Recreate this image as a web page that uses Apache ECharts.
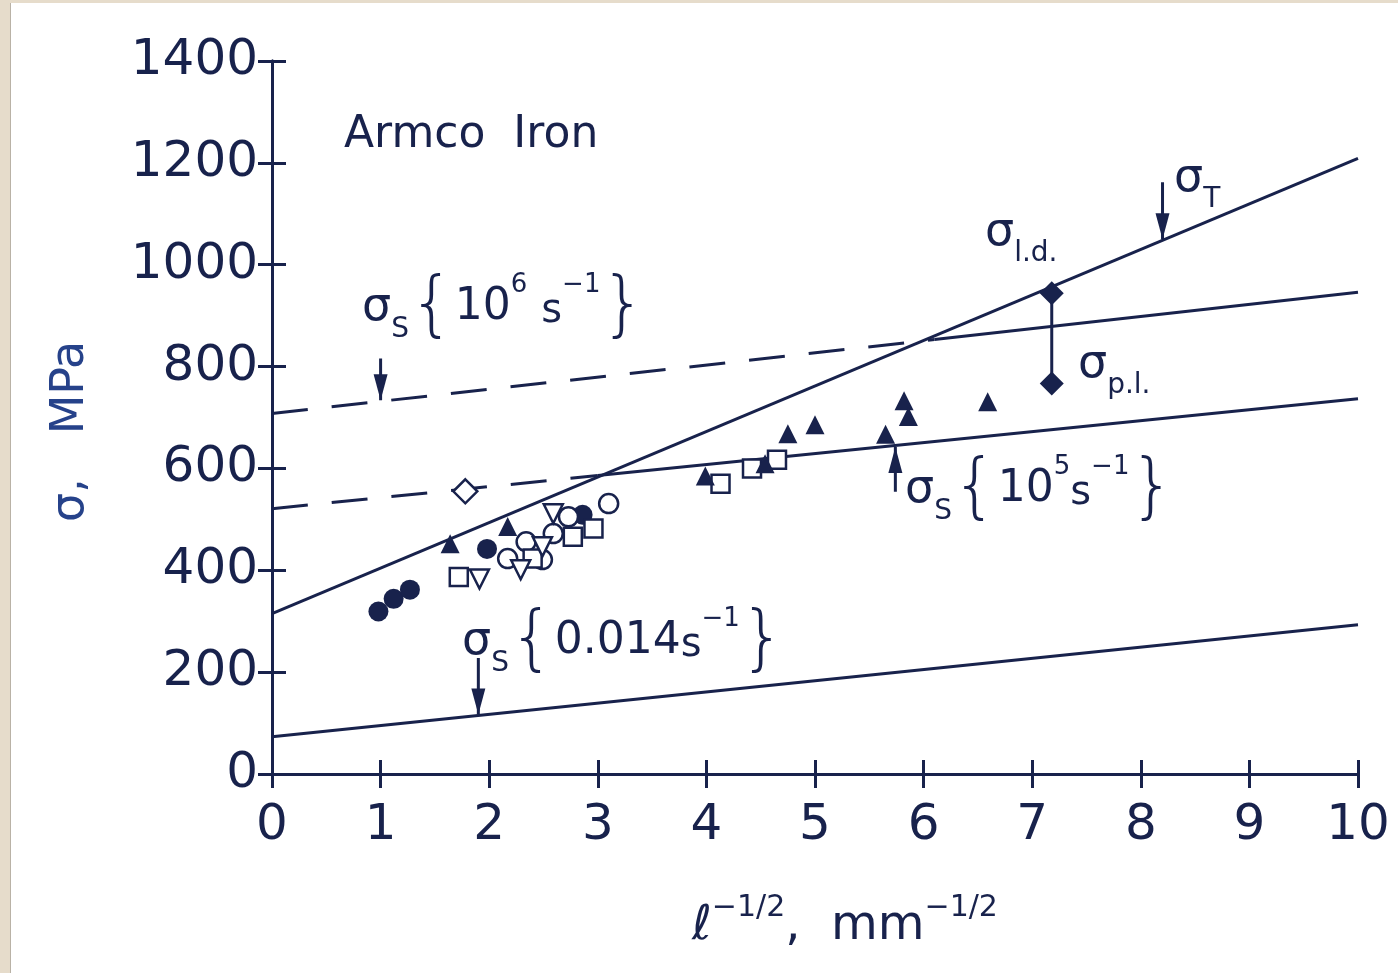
<!DOCTYPE html>
<html>
<head>
<meta charset="utf-8">
<script src="https://cdn.jsdelivr.net/npm/echarts@6/dist/echarts.min.js"></script>
<style>
  body{margin:0;background:#e6dccb;}
  #paper{position:absolute;left:10px;top:3px;right:0;bottom:0;background:#fff;border-left:1px solid #b9b2a6;}
  #main{position:absolute;left:0;top:0;width:1398px;height:973px;}
</style>
</head>
<body>
<div id="paper"></div>
<div id="main"></div>
<script>
// 坐标轴刻度
var xTicks = [0,1,2,3,4,5,6,7,8,9,10];
var yTicks = [0,200,400,600,800,1000,1200,1400];

// 直线（端点）
var tLineX = [0, 10],      tLineY = [315, 1209];   // sigma T
var s6DashX = [0, 6.1],    s6DashY = [708, 853];   // sigma s {10^6}
var s6SolidX = [6.1, 10],  s6SolidY = [853, 946];
var s5DashX = [0, 3.0],    s5DashY = [521, 586];   // sigma s {10^5}
var s5SolidX = [3.0, 10],  s5SolidY = [586, 737];
var s014X = [0, 10],       s014Y = [73, 293];      // sigma s {0.014}

// 数据点
var fCircleX = [0.98, 1.12, 1.27, 1.98, 2.86];
var fCircleY = [319, 344, 362, 442, 509];
var oCircleX = [2.17, 2.34, 2.49, 2.59, 2.73, 3.10];
var oCircleY = [423, 456, 421, 472, 505, 531];
var fTriX = [1.64, 2.17, 3.99, 4.54, 4.75, 5.0, 5.65, 5.82, 5.86, 6.59];
var fTriY = [452, 486, 585, 609, 668, 686, 667, 733, 702, 731];
var oTriX = [1.91, 2.29, 2.49, 2.59];
var oTriY = [383, 401, 446, 511];
var oSqX = [1.72, 2.40, 2.77, 2.96, 4.13, 4.42, 4.65];
var oSqY = [387, 423, 466, 482, 570, 600, 617];
var oDiaX = [1.78], oDiaY = [555];
var fDiaX = [7.18, 7.18], fDiaY = [944, 767];   // sigma l.d. / sigma p.l.

// 箭头（起点y -> 终点y）
var arrowX = [1.0, 1.9, 5.74, 8.2];
var arrowFrom = [816, 228, 554, 1162];
var arrowTo = [734, 117, 642, 1050];

var ink = '#18224c';
var font = 'DejaVu Sans';

function pairs(xs, ys){
  var out = [];
  for(var i=0;i<xs.length;i++){ out.push([xs[i], ys[i]]); }
  return out;
}
function lineSeries(xs, ys, dashed){
  return {
    type:'line', data:pairs(xs, ys), symbol:'none', silent:true, z:3,
    lineStyle:{color:ink, width:3, type: dashed ? [36,24] : 'solid'}
  };
}
function scatter(xs, ys, sym, size, filled, rot){
  return {
    type:'scatter', data:pairs(xs, ys), symbol:sym, symbolSize:size, symbolRotate:rot||0, z:5,
    itemStyle:{color: filled ? ink : '#fff', borderColor:ink, borderWidth: filled ? 0 : 2.5, opacity:1}
  };
}

// 箭头：竖线 + 三角箭头
var arrowSeries = [];
for(var i=0;i<arrowX.length;i++){
  var down = arrowTo[i] < arrowFrom[i];
  arrowSeries.push(lineSeries([arrowX[i], arrowX[i]], [arrowFrom[i], arrowTo[i]], false));
  arrowSeries.push({
    type:'scatter', silent:true, z:6, data:[[arrowX[i], arrowTo[i]]],
    symbol:'triangle', symbolSize:[14,26], symbolRotate: down ? 180 : 0,
    symbolOffset:[0, down ? '-50%' : '50%'],
    itemStyle:{color:ink, opacity:1}
  });
}

var chart = echarts.init(document.getElementById('main'), null, {renderer:'canvas'});

var supStyle = {fontSize:26, fontFamily:font, color:ink, verticalAlign:'top', lineHeight:70};
var subStyle = {fontSize:28, fontFamily:font, color:ink, verticalAlign:'bottom', lineHeight:70};
var sigStyle = {fontSize:46, fontFamily:font, color:ink, lineHeight:70};
var numStyle = {fontSize:44, fontFamily:font, color:ink, lineHeight:70};
var sStyle = {fontSize:40, fontFamily:font, color:ink, lineHeight:70, verticalAlign:'bottom', padding:[0,0,12,0]};
var richSet = {g:sigStyle, sub:subStyle, n:numStyle, sup:supStyle, s:sStyle};
function richAnno(x, y, text){
  return {
    type:'text', left:x, top:y, z:10,
    style:{text:text, fill:ink, font:'200 72px "DejaVu Sans"', rich:richSet}
  };
}

var option = {
  animation:false,
  grid:{left:272, right:40, top:61, bottom:199},
  xAxis:[{
    type:'value', min:0, max:10, interval:1,
    axisLine:{lineStyle:{color:ink, width:3}},
    axisTick:{inside:true, length:14, lineStyle:{color:ink, width:3}},
    axisLabel:{fontSize:50, fontFamily:font, color:ink, margin:27,
      formatter:function(v){ return xTicks.indexOf(v) >= 0 ? String(v) : ''; }},
    splitLine:{show:false}
  },{
    type:'value', min:0, max:10, interval:1, position:'top',
    axisLine:{lineStyle:{color:ink, width:3}},
    axisTick:{inside:true, length:14, lineStyle:{color:ink, width:3}},
    axisLabel:{show:false}, splitLine:{show:false}
  }],
  yAxis:[{
    type:'value', min:0, max:1400, interval:200,
    axisLine:{show:true, lineStyle:{color:ink, width:3}},
    axisTick:{show:true, inside:true, length:14, lineStyle:{color:ink, width:3}},
    axisLabel:{fontSize:50, fontFamily:font, color:ink, margin:14,
      formatter:function(v){ return yTicks.indexOf(v) >= 0 ? String(v) : ''; }},
    splitLine:{show:false}
  },{
    type:'value', min:0, max:1400, interval:200, position:'right',
    axisLine:{show:true, lineStyle:{color:ink, width:3}},
    axisTick:{show:true, inside:true, length:14, lineStyle:{color:ink, width:3}},
    axisLabel:{show:false}, splitLine:{show:false}
  }],
  series:[
    lineSeries(tLineX, tLineY, false),
    lineSeries(s6DashX, s6DashY, true),
    lineSeries(s6SolidX, s6SolidY, false),
    lineSeries(s5DashX, s5DashY, true),
    lineSeries(s5SolidX, s5SolidY, false),
    lineSeries(s014X, s014Y, false),
    lineSeries(fDiaX, fDiaY, false),
    scatter(fCircleX, fCircleY, 'circle', 20, true),
    scatter(oCircleX, oCircleY, 'circle', 19, false),
    scatter(oSqX, oSqY, 'rect', 18, false),
    scatter(oTriX, oTriY, 'triangle', 19, false, 180),
    scatter(fTriX, fTriY, 'triangle', 19, true),
    scatter(oDiaX, oDiaY, 'diamond', 24, false),
    scatter(fDiaX, fDiaY, 'diamond', 24, true)
  ].concat(arrowSeries),
  graphic:[
    {type:'text', left:344, top:114, z:10,
      style:{text:'Armco  Iron', fill:ink, font:'44px "DejaVu Sans"'}},
    richAnno(362, 272, '{g|σ}{sub|S}{{n|10}{sup|6}{n| }{s|s}{sup|−1}}'),
    richAnno(905, 454, '{g|σ}{sub|S}{{n|10}{sup|5}{s|s}{sup|−1}}'),
    richAnno(462, 606, '{g|σ}{sub|S}{{n|0.014}{s|s}{sup|−1}}'),
    {type:'text', left:1174, top:156, z:10,
      style:{text:'{g|σ}{sub|T}', fill:ink, rich:richSet}},
    {type:'text', left:985, top:210, z:10,
      style:{text:'{g|σ}{sub|l.d.}', fill:ink, rich:richSet}},
    {type:'text', left:1078, top:342, z:10,
      style:{text:'{g|σ}{sub|p.l.}', fill:ink, rich:richSet}},
    {type:'text', left:692, top:893, z:10,
      style:{text:'{a|ℓ}{p|−1/2}{a|,  mm}{p|−1/2}', fill:ink,
        rich:{a:{fontSize:48, fontFamily:font, color:ink, lineHeight:58, verticalAlign:'bottom'},
              p:{fontSize:30, fontFamily:font, color:ink, lineHeight:58, verticalAlign:'top'}}}},
    {type:'text', x:48, y:522, rotation:Math.PI/2, z:10,
      style:{text:'σ,   MPa', fill:'#26428a', font:'46px "DejaVu Sans"'}}
  ]
};
chart.setOption(option);
</script>
</body>
</html>
